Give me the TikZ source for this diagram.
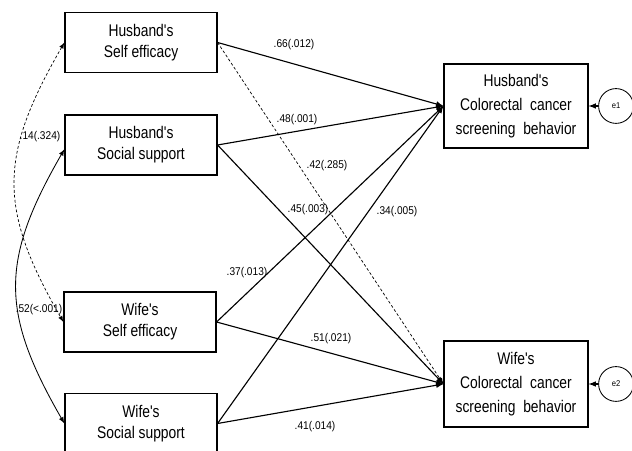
\documentclass[tikz,border=0pt]{standalone}
\usepackage{fontspec}
\setmainfont{Liberation Sans}
\newfontfamily\boxfont[FakeStretch=0.82]{Liberation Sans}
\newfontfamily\coeffont[FakeStretch=0.9]{Liberation Sans}

\begin{document}
\begin{tikzpicture}[x=0.025cm,y=0.025cm,
    varbox/.style={draw,line width=0.8pt,minimum width=3.8cm,minimum height=1.5cm,align=center,font=\boxfont\fontsize{12}{15}\selectfont},
    outbox/.style={draw,line width=0.8pt,minimum width=3.6cm,minimum height=2.1cm,align=center,font=\boxfont\fontsize{12}{17}\selectfont},
    errcirc/.style={draw,circle,line width=0.6pt,minimum size=0.87cm,inner sep=0pt,font=\coeffont\fontsize{6}{7}\selectfont},
    coef/.style={font=\coeffont\fontsize{8}{9}\selectfont,inner sep=1pt},
    effect/.style={-latex,line width=0.8pt},
    weak/.style={-latex,dashed,line width=0.5pt,dash pattern=on 2pt off 1.5pt}]
    \useasboundingbox (0,0) rectangle (632,451);
    \clip (0,0) rectangle (632,451);

    % Draw the predictor boxes
    \node[varbox] (hse) at (141,408.5) {Husband's\\Self efficacy};
    \node[varbox] (hss) at (141,306) {Husband's\\Social support};
    \node[varbox] (wse) at (140,129) {Wife's\\Self efficacy};
    \node[varbox] (wss) at (141,27.5) {Wife's\\Social support};

    % Draw the outcome boxes and their errors
    \node[outbox] (hcb) at (516,345) {Husband's\\Colorectal\ \ cancer\\screening\ \ behavior};
    \node[outbox,minimum height=2.15cm] (wcb) at (516,67) {Wife's\\Colorectal\ \ cancer\\screening\ \ behavior};
    \node[errcirc] (e1) at (616,345) {e1};
    \node[errcirc] (e2) at (616,67) {e2};
    \draw[effect] (e1) -- (hcb.east);
    \draw[effect] (e2) -- (wcb.east);

    % Draw the paths to the husband's behavior
    \draw[effect] (hse.east) -- (hcb.west);
    \draw[effect] (hss.east) -- (hcb.west);
    \draw[effect] (wse.east) -- (hcb.west);
    \draw[effect] (wss.east) -- (hcb.west);

    % Draw the paths to the wife's behavior
    \draw[weak] (hse.east) -- (wcb.west);
    \draw[effect] (hss.east) -- (wcb.west);
    \draw[effect] (wse.east) -- (wcb.west);
    \draw[effect] (wss.east) -- (wcb.west);

    % Draw the covariances
    \draw[weak,latex-latex] (hse.west) to[out=240,in=120,looseness=1.2] (wse.west);
    \draw[latex-latex,line width=0.6pt] ([yshift=-3]hss.west) to[out=240,in=120,looseness=1.2] (wss.west);

    % Path coefficients
    \node[coef] (c1) at (294,406) {.66(.012)};
    \node[coef] (c2) at (297,331) {.48(.001)};
    \node[coef] (c3) at (327,285) {.42(.285)};
    \node[coef] (c4) at (308,241) {.45(.003)};
    \node[coef] (c5) at (397,239) {.34(.005)};
    \node[coef] (c6) at (247,178) {.37(.013)};
    \node[coef] (c7) at (331,112) {.51(.021)};
    \node[coef] (c8) at (315,24) {.41(.014)};
    \node[coef] (c9) at (40,314) {.14(.324)};
    \node[coef] (c10) at (39,141) {.52(<.001)};
\end{tikzpicture}
\end{document}
